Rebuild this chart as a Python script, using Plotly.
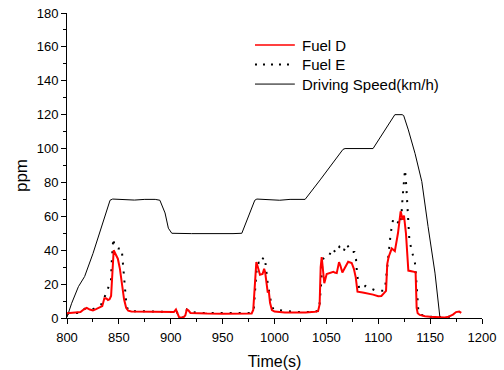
import plotly.graph_objects as go

# Driving speed profile (km/h) against time (s)
speed_t = [800, 804.5, 811, 817, 825, 833, 839.5, 841.5, 844, 855, 865, 875, 885, 889.5,
           894.5, 897.7, 901, 920, 940, 960, 968.5, 981, 983, 995, 1005, 1015, 1025, 1029.5,
           1044, 1066, 1068, 1085, 1095, 1116, 1123, 1124.5, 1129, 1135.5, 1142, 1148,
           1154.7, 1159.5]
speed_v = [0.5, 8.7, 18.5, 24.5, 38, 53, 66.5, 69.5, 70.2, 70, 69.6, 70, 70, 69.5,
           62, 53, 50, 49.8, 49.6, 49.8, 50, 69.5, 70.2, 70, 69.5, 70, 70, 70,
           81.5, 99.5, 100, 99.8, 100, 120, 120, 119.5, 111, 97, 80.5, 54,
           26.5, 0]

# Fuel D concentration (ppm)
fuel_d_t = [800, 805, 810, 813, 816, 819, 822, 825, 828, 831, 834, 836, 838, 839.5, 841,
            842.5, 843.5, 845, 847, 849, 851, 853, 855, 857, 859, 862, 870, 880, 890, 900,
            903, 905, 906.5, 908, 912, 914, 915.5, 917, 919, 925, 935, 950, 965, 978,
            979.5, 981, 982.5, 984, 986, 988.5, 990, 991, 992.5, 993.5, 994.5, 995.7,
            997.5, 1000, 1010, 1020, 1030, 1039, 1042, 1043.5, 1044.5, 1045.5, 1046.5,
            1048, 1050.3, 1053, 1056.7, 1058, 1060, 1062.2, 1063.5, 1065.4, 1068, 1071,
            1074.4, 1076.5, 1078.3, 1080, 1085, 1090, 1095, 1100, 1103, 1106, 1107.5,
            1108.7, 1110, 1113, 1116, 1119, 1121.6, 1123.5, 1124.8, 1126.7, 1129, 1133,
            1136, 1137, 1138, 1140, 1145, 1150, 1155, 1160, 1164, 1168, 1172, 1175,
            1178, 1180]
fuel_d_v = [2.8, 2.9, 3, 3.5, 5, 6, 5, 4.4, 5.2, 6.3, 7, 11.6, 11.5, 10.6, 11,
            13, 28, 40, 37.5, 35, 29, 20, 11, 6, 4.3, 3.8, 3.7, 3.6, 3.5, 3.3,
            3.5, 5, 2.5, 0.5, 0.3, 1.5, 5, 4.5, 3, 2.7, 2.6, 2.5, 2.6, 2.7,
            4.7, 16.5, 33, 30, 25.5, 26, 29, 27, 18.5, 15, 16, 9,
            4.7, 3.8, 3.3, 3.2, 3.3, 3.7, 4, 8, 30, 36, 30,
            20.5, 26, 26.5, 27.3, 26.8, 26.5, 33, 31, 26.8, 30, 33.2,
            32.5, 29, 24, 15.5, 15, 14.5, 13.8, 12.8, 13, 15, 16,
            32, 36, 41, 39.5, 50, 63, 58, 60.5, 50, 28, 27.5,
            27, 6, 2.8, 1.8, 1, 0.7, 0.4, 0.2, 0.3, 0.8, 2, 3.5,
            3.8, 3]

# Fuel E concentration (ppm)
fuel_e_t = [800, 805, 810, 814, 817, 820, 823, 826, 830, 833, 836, 839, 841, 842.4, 843,
            844, 844.6, 846, 849.4, 852.7, 853.5, 854, 855, 856, 857, 858.5, 861, 870,
            880, 890, 900, 903, 905, 906.5, 908, 912, 914, 915.5, 917, 919, 930, 950,
            970, 978, 980, 981.5, 983, 985, 986, 988, 989.5, 991, 992, 993.5, 995, 997,
            999, 1003, 1010, 1020, 1030, 1040, 1043, 1044.5, 1045, 1046, 1047, 1048.7,
            1052.5, 1055.7, 1059.3, 1062.5, 1066.3, 1069.6, 1073.7, 1077, 1078.6, 1079.5,
            1081.7, 1087.8, 1096.2, 1102, 1105.5, 1107, 1108, 1109.5, 1111, 1112, 1114.5,
            1117, 1121, 1122.5, 1123.5, 1125, 1125.8, 1127, 1128, 1129, 1130, 1132.2,
            1134, 1135.4, 1136.4, 1138.6, 1140, 1145, 1150, 1155, 1160, 1165, 1171]
fuel_e_v = [2.5, 2.6, 3, 4, 5.5, 5.5, 5, 5.5, 7, 8, 12, 16.5, 20, 22, 32,
            43, 47, 42, 41, 41, 35, 30, 20.5, 14.6, 9.6, 5, 4, 4,
            3.8, 3.7, 3.5, 3.8, 5, 2.5, 0.5, 0.3, 1.5, 5, 4.5, 3.5, 3, 2.8,
            2.9, 3, 5, 18, 30, 33, 32, 34, 36, 34, 28, 20, 15, 8,
            5, 4.7, 4, 3.5, 3.5, 3.8, 5, 14.6, 20.5, 31, 35, 36.2,
            36.6, 41, 38.5, 42, 39, 43.7, 39, 39, 34.6, 26.4,
            17, 18.9, 16.5, 16, 16.1, 20, 26, 36, 46, 50, 58.8,
            58, 55, 62, 71.6, 82, 87.5, 78, 66.7, 55, 46, 40,
            36, 32.3, 24.4, 4.7, 2, 1.2, 0.8, 0.6, 0.5, 0.5, 0.7]

# Legend entries: label, colour, width, dash
legend_labels = ["Fuel D", "Fuel E", "Driving Speed(km/h)"]
legend_colors = ["#ff0000", "black", "black"]
legend_widths = [1.5, 2, 1]
legend_dashes = ["solid", "2px,6px", "solid"]

FONT = "Arial, Liberation Sans, sans-serif"

fig = go.Figure()
fig.add_trace(go.Scatter(
    x=fuel_e_t, y=fuel_e_v, mode="lines", name="Fuel E", showlegend=False,
    line=dict(color="black", width=2, dash="2px,7px"),
))
fig.add_trace(go.Scatter(
    x=speed_t, y=speed_v, mode="lines", name="Driving Speed(km/h)", showlegend=False,
    line=dict(color="black", width=1),
))
fig.add_trace(go.Scatter(
    x=fuel_d_t, y=fuel_d_v, mode="lines", name="Fuel D", showlegend=False,
    line=dict(color="#ff0000", width=2),
))

# Key drawn in paper coordinates inside the plot area
key_x0, key_x1, key_text_x = 0.453, 0.549, 0.561
key_rows = [0.895, 0.831, 0.767]
for label, color, width, dash, yk in zip(legend_labels, legend_colors, legend_widths,
                                         legend_dashes, key_rows):
    fig.add_shape(type="line", xref="paper", yref="paper",
                  x0=key_x0, x1=key_x1, y0=yk, y1=yk,
                  line=dict(color=color, width=width, dash=dash))
    fig.add_annotation(xref="paper", yref="paper", x=key_text_x, y=yk,
                       xanchor="left", yanchor="middle", text=label, showarrow=False,
                       font=dict(family=FONT, size=15, color="black"))

# Y-axis title, placed a little below the middle of the axis
fig.add_annotation(xref="paper", yref="paper", x=-0.108, y=0.466,
                   xanchor="center", yanchor="middle", text="ppm", textangle=-90,
                   showarrow=False, font=dict(family=FONT, size=17, color="black"))

axis_common = dict(
    showline=True, linecolor="black", linewidth=1,
    ticks="outside", ticklen=5, tickwidth=1, tickcolor="black",
    showgrid=False, zeroline=False, mirror=False, automargin=False,
    tickfont=dict(family=FONT, size=13, color="black"),
)

fig.update_layout(
    template="none",
    width=504, height=370,
    margin=dict(l=67, r=22, t=13, b=52),
    paper_bgcolor="white", plot_bgcolor="white",
    font=dict(family=FONT, color="black"),
    showlegend=False,
    xaxis=dict(
        range=[800, 1200], dtick=50, tick0=800, ticklabelstandoff=2,
        minor=dict(ticks="outside", ticklen=3, dtick=25, tickcolor="black"),
        title=dict(text="Time(s)", font=dict(family=FONT, size=16)),
        **axis_common,
    ),
    yaxis=dict(
        range=[0, 180], dtick=20, tick0=0,
        minor=dict(ticks="outside", ticklen=3, dtick=10, tickcolor="black"),
        **axis_common,
    ),
)

fig.write_html("out.html")
